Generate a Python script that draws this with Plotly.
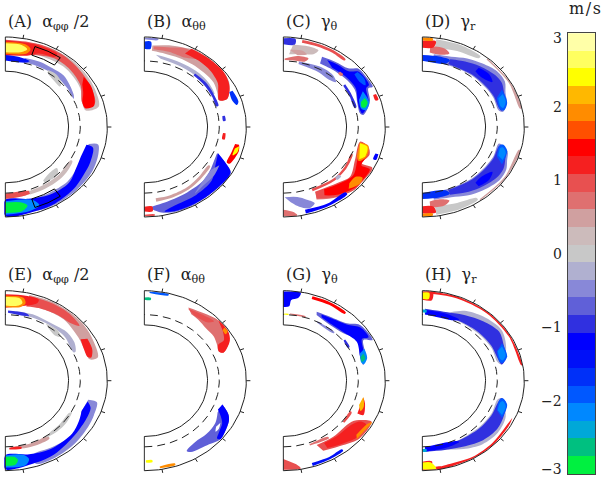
import numpy as np
import plotly.graph_objects as go

# colour scale, top (3 m/s) to bottom (-3 m/s)
scale_colors = ["#FFFFA8", "#FFFF60", "#FFFF00", "#FFB800", "#FF8C00", "#FF5000", "#FF0000", "#F52020",
                "#E85050", "#DF7070", "#D0A0A0", "#CCBBBB", "#C8C8C8", "#B0B0D0", "#8888D8", "#6060D8",
                "#3030E0", "#0000FF", "#0010F8", "#0030F8", "#0058FF", "#0088FF", "#00A8D8", "#00C080", "#00F040"]
scale_ticks = [3, 2, 1, 0, -1, -2, -3]
tick_angles = [-80, -60, -40, -20, 0, 20, 40, 60, 80]
r_inner, r_tacho, r_outer = 0.62, 0.735, 1.0
box_theta = [55, 72]
box_r = [0.84, 0.94]

# regions: (speed in m/s, [(latitude deg, radius), ...])
blobs_a = [
    (0.24, [(74, .97), (62, .985), (48, .99), (36, .985), (26, .975), (14, .945), (13, .81), (20, .80), (30, .85), (40, .87), (50, .88), (60, .87), (72, .86)]),
    (0.96, [(90, .97), (78, .97), (66, .98), (55, .98), (45, .97), (36, .96), (28, .95), (17, .92), (15, .82), (20, .80), (32, .87), (45, .90), (58, .90), (72, .84), (90, .79)]),
    (1.2, [(90, .96), (75, .96), (66, .965), (58, .96), (58, .92), (68, .88), (75, .82), (90, .80)]),
    (1.44, [(36, .95), (28, .955), (20, .93), (15, .90), (15, .81), (20, .805), (26, .85), (32, .89)]),
    (1.92, [(90, .945), (78, .94), (74, .90), (76, .84), (90, .815)]),
    (2.64, [(90, .93), (80, .925), (76, .89), (79, .85), (90, .83)]),
    (-0.48, [(76, .79), (65, .80), (55, .80), (45, .81), (38, .79), (28, .76), (25, .74), (35, .745), (50, .755), (65, .745), (76, .745)]),
    (-1.44, [(90, .80), (80, .79), (72, .77), (74, .745), (90, .74)]),
    (0.0, [(57, .76), (50, .77), (42, .74), (40, .70), (46, .70), (54, .72)]),
    (-0.48, [(-13, .84), (-12, .93), (-18, .96), (-30, .985), (-45, .99), (-60, .99), (-72, .97), (-72, .86), (-60, .85), (-45, .86), (-35, .84), (-24, .82)]),
    (-1.2, [(-14, .82), (-15, .89), (-25, .92), (-32, .93), (-45, .96), (-60, .98), (-72, .98), (-90, .99), (-90, .81), (-74, .83), (-60, .87), (-45, .88), (-33, .83), (-24, .81)]),
    (-2.16, [(-90, .975), (-76, .965), (-69, .93), (-72, .85), (-90, .825)]),
    (-2.88, [(-90, .955), (-80, .95), (-76, .90), (-80, .85), (-90, .84)]),
    (0.96, [(-90, .80), (-78, .79), (-70, .775), (-72, .745), (-90, .74)]),
    (0.24, [(-72, .79), (-60, .79), (-48, .79), (-38, .78), (-30, .76), (-30, .74), (-45, .745), (-60, .745), (-72, .75)]),
    (0.0, [(-58, .73), (-50, .74), (-44, .72), (-42, .68), (-50, .67), (-58, .70)]),
]
blobs_b = [
    (-1.68, [(90, .95), (86, .95), (86, .87), (90, .87)]),
    (-0.48, [(90, .99), (82, .99), (82, .975), (90, .975)]),
    (0.48, [(85, .91), (75, .94), (66, .965), (60, .99), (50, .99), (38, .99), (31, .97), (26, .93), (21, .87), (22, .79), (28, .81), (36, .84), (46, .84), (56, .84), (66, .84), (76, .84), (85, .85)]),
    (0.72, [(84, .90), (74, .92), (66, .96), (60, .96), (54, .94), (62, .87), (74, .87), (84, .87)]),
    (1.2, [(62, .985), (50, .99), (38, .99), (31, .965), (26, .93), (21, .87), (22, .79), (28, .82), (34, .87), (44, .90), (54, .91), (64, .91)]),
    (-0.24, [(82, .81), (72, .80), (60, .80), (48, .805), (38, .80), (28, .78), (30, .755), (45, .76), (62, .76), (78, .775)]),
    (-0.96, [(50, .775), (38, .78), (26, .77), (18, .765), (18, .74), (26, .745), (38, .75), (50, .75)]),
    (-1.68, [(25, .955), (17, .965), (15, .94), (19, .91), (25, .92)]),
    (-0.96, [(9, .80), (5, .80), (5, .775), (9, .775)]),
    (1.2, [(-5, .80), (-10, .80), (-10, .775), (-5, .775)]),
    (1.44, [(-12, .95), (-16, .965), (-26, .93), (-26, .90), (-18, .90), (-12, .91)]),
    (2.4, [(-13, .955), (-17, .955), (-20, .92), (-15, .92)]),
    (-0.72, [(-22, .77), (-27, .90), (-31, .99), (-45, .99), (-60, .99), (-72, .99), (-80, .965), (-86, .90), (-75, .86), (-60, .84), (-45, .83), (-35, .80)]),
    (-1.2, [(-22, .78), (-27, .90), (-31, .985), (-45, .985), (-60, .985), (-72, .98), (-78, .96), (-70, .92), (-56, .91), (-42, .89), (-32, .82)]),
    (-0.48, [(-30, .85), (-38, .87), (-48, .87), (-56, .89), (-46, .83), (-36, .81)]),
    (0.48, [(-82, .84), (-70, .83), (-58, .82), (-46, .80), (-34, .78), (-34, .76), (-46, .77), (-58, .79), (-72, .80), (-82, .80)]),
    (1.2, [(-90, .94), (-85, .94), (-85, .885), (-90, .885)]),
    (0.96, [(-90, .99), (-84, .99), (-84, .975), (-90, .975)]),
]
blobs_c = [
    (-0.96, [(90, .985), (83, .985), (83, .92), (90, .92)]),
    (0.96, [(79, .985), (70, .985), (60, .985), (51, .97), (51, .95), (60, .955), (70, .955), (79, .955)]),
    (0.24, [(84, .92), (75, .93), (68, .92), (70, .86), (78, .83), (86, .81)]),
    (0.72, [(89, .76), (80, .80), (72, .80), (74, .755), (82, .745), (89, .745)]),
    (0.48, [(86, .86), (78, .87), (74, .84), (80, .81)]),
    (-0.72, [(64, .867), (55, .885), (45.7, .911), (41.5, .98), (35.8, .985), (27, .985), (27.3, .938), (19.4, .901), (15, .864), (9.6, .796), (11.4, .767), (19.9, .772), (30.3, .814), (41.8, .811), (54.9, .797), (63, .793)]),
    (-1.2, [(60, .86), (52, .875), (44, .89), (40, .96), (34, .97), (29, .96), (28, .92), (19, .885), (15, .85), (11, .79), (14, .775), (22, .785), (31, .83), (42, .83), (54, .815)]),
    (-1.92, [(40, .95), (34, .96), (30, .93), (34, .90), (40, .91)]),
    (-2.16, [(27, .875), (18, .885), (13, .83), (15, .79), (22, .80)]),
    (-2.88, [(22, .86), (18, .87), (15, .83), (16, .80), (20, .81)]),
    (-0.48, [(78, .745), (62, .76), (50, .755), (44, .72), (50, .69), (60, .70), (78, .715)]),
    (-0.96, [(38, .77), (28, .76), (17, .75), (17, .73), (28, .735), (38, .745)]),
    (1.2, [(22, .98), (18, .98), (18, .95), (22, .95)]),
    (0.72, [(48, .83), (45, .83), (45, .80), (48, .80)]),
    (0.72, [(-68, .87), (-56, .94), (-45, .985), (-40, .98), (-50, .85), (-66, .79)]),
    (0.96, [(-66.6, .783), (-50, .816), (-40, .856), (-27.6, .793), (-12.2, .77), (-14.7, .862), (-20, .90), (-27.7, .868), (-27.5, .985), (-40, .985), (-45, .985), (-56, .934), (-67.6, .858)]),
    (1.44, [(-60, .80), (-50, .83), (-38, .87), (-26, .81), (-14, .79), (-16, .85), (-21, .88), (-29, .875), (-29, .97), (-40, .975), (-45, .97), (-55, .92), (-62, .86)]),
    (1.92, [(-47, .94), (-40, .98), (-36, .96), (-38, .90), (-44, .90)]),
    (1.92, [(-13, .77), (-14, .86), (-22, .88), (-27, .83), (-24, .79)]),
    (2.4, [(-13.5, .773), (-15, .853), (-22, .866), (-25.7, .827)]),
    (0.96, [(-68, .77), (-50, .78), (-36, .77), (-24, .745), (-24, .73), (-36, .745), (-50, .755), (-68, .74)]),
    (-1.2, [(-77, .985), (-65, .985), (-50, .975), (-50, .945), (-63, .955), (-77, .945)]),
    (-0.48, [(-89, .78), (-80, .79), (-74, .84), (-70, .90), (-74, .94), (-80, .90), (-85, .84)]),
    (0.72, [(-90, .99), (-82, .99), (-84, .95), (-90, .92)]),
    (-1.2, [(-18, .98), (-22, .98), (-22, .95), (-18, .95)]),
    (-0.24, [(-44, .79), (-48, .79), (-48, .76), (-44, .76)]),
]
blobs_d = [
    (0.0, [(82, .985), (68, .985), (54, .97), (54, .945), (68, .91), (82, .89)]),
    (0.72, [(85, .90), (76, .90), (72, .86), (78, .82), (85, .83)]),
    (0.48, [(50, .995), (30, .995), (12, .995), (12, .98), (30, .98), (50, .98)]),
    (1.2, [(90, .96), (82, .96), (83, .89), (90, .88)]),
    (1.92, [(90, .995), (84, .99), (84, .965), (90, .965)]),
    (-0.48, [(82, .815), (70, .83), (60, .88), (50, .92), (40, .96), (32, .955), (25, .90), (18, .87), (12, .81), (14, .77), (25, .77), (35, .76), (50, .75), (65, .735), (82, .735)]),
    (-0.96, [(70, .80), (60, .84), (50, .88), (38, .92), (32, .92), (26, .89), (19, .86), (13, .80), (16, .78), (26, .78), (36, .77), (50, .76), (70, .745)]),
    (-1.68, [(90, .80), (78, .80), (70, .79), (72, .74), (90, .735)]),
    (-1.2, [(50, .86), (42, .88), (36, .85), (44, .80), (50, .81)]),
    (-1.92, [(28, .885), (18, .875), (13, .82), (15, .785), (24, .80)]),
    (-2.16, [(25, .87), (19, .865), (15, .82), (17, .80), (23, .81)]),
    (0.0, [(-82, .985), (-68, .985), (-56, .975), (-56, .95), (-68, .91), (-82, .89)]),
    (0.72, [(-85, .90), (-76, .90), (-72, .86), (-78, .82), (-85, .83)]),
    (0.48, [(-55, .995), (-35, .995), (-15, .995), (-15, .98), (-35, .98), (-55, .98)]),
    (1.2, [(-90, .96), (-82, .96), (-83, .89), (-90, .88)]),
    (1.92, [(-90, .995), (-84, .99), (-84, .965), (-90, .965)]),
    (-0.48, [(-82, .815), (-70, .83), (-60, .88), (-50, .92), (-38, .96), (-30, .95), (-24, .91), (-18, .88), (-14, .80), (-14, .77), (-25, .77), (-35, .76), (-50, .75), (-65, .735), (-82, .735)]),
    (-0.96, [(-70, .80), (-60, .84), (-50, .88), (-38, .92), (-30, .92), (-24, .89), (-19, .865), (-15, .80), (-16, .78), (-26, .78), (-36, .77), (-50, .76), (-70, .745)]),
    (-1.68, [(-90, .80), (-78, .80), (-70, .79), (-72, .74), (-90, .735)]),
    (-1.2, [(-50, .86), (-42, .88), (-36, .85), (-44, .80), (-50, .81)]),
    (-1.92, [(-28, .885), (-18, .875), (-14, .82), (-15, .785), (-24, .80)]),
    (-2.16, [(-25, .87), (-19, .865), (-16, .82), (-17, .80), (-23, .81)]),
]
blobs_e = [
    (0.48, [(76, .98), (62, .99), (50, .99), (40, .99), (30, .975), (16, .945), (16, .86), (24, .85), (32, .86), (40, .87), (50, .89), (62, .88), (76, .87)]),
    (0.96, [(76, .97), (62, .975), (50, .975), (40, .95), (44, .91), (56, .89), (68, .87), (76, .85)]),
    (1.2, [(30, .93), (22, .92), (17, .88), (18, .85), (26, .85), (32, .87)]),
    (1.2, [(90, .96), (78, .965), (70, .96), (70, .92), (76, .86), (90, .81)]),
    (1.92, [(90, .945), (79, .94), (77, .88), (80, .83), (90, .82)]),
    (2.64, [(90, .93), (81, .925), (79, .88), (82, .84), (90, .835)]),
    (-0.24, [(82, .78), (70, .785), (62, .78), (50, .79), (42, .81), (32, .80), (25, .76), (25, .74), (40, .76), (55, .755), (70, .75), (82, .745)]),
    (-0.96, [(88, .78), (74, .775), (72, .755), (88, .755)]),
    (0.0, [(58, .75), (48, .76), (42, .73), (46, .70), (54, .72)]),
    (-0.48, [(-14.5, .84), (-15, .93), (-24, .95), (-32, .96), (-45, .975), (-60, .985), (-72, .97), (-72, .87), (-58, .87), (-44, .89), (-33, .87), (-25, .82)]),
    (-1.2, [(-16, .84), (-20, .89), (-28, .90), (-40, .91), (-50, .925), (-60, .95), (-72, .96), (-90, .985), (-90, .83), (-74, .85), (-60, .88), (-42, .88), (-32, .85), (-24, .82)]),
    (-2.16, [(-90, .965), (-78, .96), (-75, .90), (-78, .84), (-90, .83)]),
    (-2.88, [(-90, .945), (-84, .94), (-82, .89), (-84, .85), (-90, .845)]),
    (0.48, [(-86, .76), (-74, .775), (-64, .78), (-56, .775), (-56, .745), (-70, .74), (-86, .74)]),
    (1.2, [(-87, .765), (-78, .77), (-78, .75), (-87, .745)]),
    (0.0, [(-58, .75), (-48, .76), (-38, .76), (-28, .74), (-30, .72), (-42, .72), (-52, .72)]),
]
blobs_f = [
    (0.72, [(62, .92), (52, .95), (44, .985), (36, .99), (32, .97), (27, .93), (22, .84), (24, .80), (30, .82), (36, .84), (44, .84), (52, .86), (58, .87)]),
    (0.96, [(62, .91), (52, .93), (44, .95), (46, .90), (56, .875)]),
    (1.2, [(43, .99), (34, .99), (28, .95), (22, .84), (24, .80), (29, .83), (30, .90), (36, .95)]),
    (1.92, [(37, .98), (34, .985), (33, .95), (36, .95)]),
    (-0.72, [(-19, .81), (-24, .90), (-28, .94), (-36, .975), (-41, .99), (-48, .95), (-60, .915), (-62, .885), (-54, .845), (-44, .85), (-34, .84), (-26, .80)]),
    (-1.2, [(-19, .81), (-24, .90), (-28, .94), (-36, .975), (-41, .99), (-42, .96), (-38, .93), (-32, .90), (-28, .85), (-24, .79)]),
    (None, [(-32, .88), (-36, .905), (-39, .90), (-36, .87)]),
    (-2.64, [(90, .925), (86, .925), (86, .90), (90, .90)]),
    (-1.92, [(87, .99), (76, .99), (76, .975), (87, .975)]),
    (2.4, [(-89, .91), (-85, .91), (-85, .885), (-89, .885)]),
    (1.92, [(-81, .985), (-72, .985), (-72, .965), (-81, .965)]),
]
blobs_g = [
    (-1.2, [(90, .99), (80, .99), (81, .93), (85, .90), (86, .83), (90, .82)]),
    (2.4, [(90, .745), (86, .745), (86, .735), (90, .735)]),
    (1.44, [(73, .98), (62, .985), (51, .975), (51, .955), (62, .955), (73, .95)]),
    (-0.72, [(66.9, .834), (57.2, .846), (45.7, .89), (39.5, .974), (27.3, .986), (29.9, .906), (20.8, .857), (12.5, .804), (19.5, .798), (31.9, .855), (41.8, .79), (53.5, .77), (65.9, .80)]),
    (-1.2, [(63, .825), (55, .84), (44, .89), (38, .96), (30, .965), (31, .90), (22, .85), (15, .81), (19, .80), (31, .84), (42, .80), (53, .785), (62, .80)]),
    (-2.16, [(24, .87), (17, .86), (13, .81), (15, .79), (22, .81)]),
    (-2.64, [(21, .84), (17, .84), (15, .80), (19, .80)]),
    (-0.48, [(63, .74), (47, .735), (47, .72), (63, .725)]),
    (-0.96, [(37, .76), (30, .75), (30, .73), (37, .74)]),
    (0.72, [(85, .75), (73, .75), (73, .74), (85, .74)]),
    (0.96, [(-65.4, .786), (-51.8, .792), (-34.2, .81), (-29.6, .884), (-27.8, .979), (-40.4, .985), (-50.5, .926), (-63.3, .871)]),
    (1.2, [(-60, .80), (-50, .81), (-36, .83), (-31, .88), (-31, .95), (-40, .965), (-50, .91), (-60, .865)]),
    (1.92, [(-42, .97), (-36, .97), (-28, .985), (-30, .955), (-40, .935)]),
    (1.2, [(-13.3, .806), (-17.5, .84), (-25.9, .873), (-26.6, .812)]),
    (2.16, [(-13, .805), (-20, .84), (-24, .83), (-20, .79)]),
    (0.96, [(-38, .76), (-28, .76), (-27, .74), (-38, .74)]),
    (0.72, [(-70, .765), (-55, .78), (-55, .76), (-70, .75)]),
    (-1.44, [(-73, .99), (-62, .985), (-53, .975), (-53, .955), (-62, .96), (-73, .955)]),
    (0.96, [(-90, .99), (-80, .99), (-82, .94), (-86, .90), (-90, .87)]),
]
blobs_h = [
    (1.2, [(85, .995), (70, .995), (50, .995), (30, .995), (10, .995), (10, .985), (30, .98), (50, .98), (70, .975), (85, .97)]),
    (1.2, [(90, .99), (84, .99), (84, .90), (90, .90)]),
    (2.4, [(90, .98), (86, .98), (86, .91), (90, .91)]),
    (-0.24, [(70, .81), (62, .88), (50, .93), (36, .96), (24, .90), (13, .80), (16, .765), (28, .77), (42, .76), (60, .75), (70, .75)]),
    (-0.96, [(88, .80), (72, .80), (60, .84), (48, .89), (36, .93), (26, .89), (17, .86), (13, .80), (18, .78), (30, .78), (44, .77), (60, .755), (75, .745), (88, .735)]),
    (-1.2, [(88, .79), (72, .78), (62, .77), (64, .745), (88, .74)]),
    (-1.92, [(28, .885), (18, .875), (14, .81), (16, .785), (24, .80)]),
    (-2.16, [(26, .87), (19, .865), (16, .82), (18, .80), (24, .81)]),
    (-2.4, [(90, .79), (87, .79), (87, .76), (90, .76)]),
    (1.2, [(-25, .975), (-30, .985), (-45, .995), (-60, .995), (-80, .995), (-80, .98), (-60, .98), (-45, .975), (-30, .965)]),
    (1.2, [(-90, .99), (-79, .99), (-79, .97), (-84, .96), (-84, .90), (-90, .90)]),
    (2.4, [(-90, .985), (-82, .985), (-85, .91), (-90, .91)]),
    (-0.24, [(-72, .80), (-62, .86), (-50, .92), (-38, .94), (-26, .91), (-14, .80), (-16, .765), (-28, .77), (-42, .76), (-60, .75), (-72, .75)]),
    (-0.96, [(-88, .79), (-74, .80), (-60, .84), (-48, .89), (-36, .91), (-26, .89), (-17, .86), (-14, .80), (-18, .78), (-30, .78), (-44, .77), (-60, .755), (-75, .745), (-88, .735)]),
    (-1.2, [(-88, .79), (-72, .78), (-62, .77), (-64, .745), (-88, .74)]),
    (-1.92, [(-28, .885), (-18, .875), (-14, .81), (-16, .785), (-24, .80)]),
    (-2.16, [(-26, .87), (-19, .865), (-16, .82), (-18, .80), (-24, .81)]),
    (-2.4, [(-90, .79), (-87, .79), (-87, .76), (-90, .76)]),
]

panels = [
    ("(A)  α<sub>φφ</sub> /2", blobs_a, 5.3, 127, True),
    ("(B)  α<sub>θθ</sub>", blobs_b, 144.3, 127, False),
    ("(C)  γ<sub>θ</sub>", blobs_c, 283.3, 127, False),
    ("(D)  γ<sub>r</sub>", blobs_d, 422.3, 127, False),
    ("(E)  α<sub>φφ</sub> /2", blobs_e, 5.3, 380.7, False),
    ("(F)  α<sub>θθ</sub>", blobs_f, 144.3, 380.7, False),
    ("(G)  γ<sub>θ</sub>", blobs_g, 283.3, 380.7, False),
    ("(H)  γ<sub>r</sub>", blobs_h, 422.3, 380.7, False),
]

W, H = 603, 481
RX, RY = 102, 90
font = "DejaVu Serif"


def color_of(v):
    if v is None:
        return "white"
    i = int(round((2.88 - v) / 0.24))
    return scale_colors[max(0, min(24, i))]


def to_xy(theta, r):
    t = np.radians(np.array(theta, dtype=float))
    return np.array(r) * np.cos(t), np.array(r) * np.sin(t)


fig = go.Figure()
layout = {}
notes = []
for k, (title, blobs, x0, cy, has_box) in enumerate(panels):
    n = k + 1
    xname, yname = f"x{n}", f"y{n}"
    layout[f"xaxis{n}"] = dict(domain=[(x0 - 0.01 * RX) / W, (x0 + 1.1 * RX) / W], range=[-0.01, 1.1],
                               visible=False, fixedrange=True, anchor=yname)
    layout[f"yaxis{n}"] = dict(domain=[1 - (cy + 1.1 * RY) / H, 1 - (cy - 1.1 * RY) / H], range=[-1.1, 1.1],
                               visible=False, fixedrange=True, anchor=xname)
    for value, pts in blobs:
        x, y = to_xy([p[0] for p in pts], [p[1] for p in pts])
        fig.add_trace(go.Scatter(x=x, y=y, mode="lines", fill="toself", fillcolor=color_of(value),
                                 line=dict(width=0, shape="spline", smoothing=0.9), hoverinfo="skip", showlegend=False,
                                 xaxis=xname, yaxis=yname))

    arc = np.arange(-90, 91, 2)
    for r, dash in [(r_outer, "solid"), (r_inner, "solid"), (r_tacho, "8px,5px")]:
        x, y = to_xy(arc, np.full(arc.shape, r))
        fig.add_trace(go.Scatter(x=x, y=y, mode="lines", line=dict(color="#222222", width=1, dash=dash),
                                 hoverinfo="skip", showlegend=False, xaxis=xname, yaxis=yname))
    for sign in (1, -1):
        fig.add_trace(go.Scatter(x=[0, 0], y=[sign * r_inner, sign * r_outer], mode="lines",
                                 line=dict(color="#222222", width=1), hoverinfo="skip", showlegend=False,
                                 cliponaxis=False, xaxis=xname, yaxis=yname))
    for a in tick_angles:
        x, y = to_xy([a, a], [r_outer, r_outer + 0.04])
        fig.add_trace(go.Scatter(x=x, y=y, mode="lines", line=dict(color="#222222", width=1),
                                 hoverinfo="skip", showlegend=False, xaxis=xname, yaxis=yname))
    if has_box:
        for sign in (1, -1):
            t0, t1 = box_theta
            r0, r1 = box_r
            ts = [t0, (t0 + t1) / 2, t1, t1, (t0 + t1) / 2, t0, t0]
            rs = [r1, r1, r1, r0, r0, r0, r1]
            x, y = to_xy(sign * np.array(ts), rs)
            fig.add_trace(go.Scatter(x=x, y=y, mode="lines", line=dict(color="black", width=1),
                                     hoverinfo="skip", showlegend=False, xaxis=xname, yaxis=yname))
    notes.append(dict(text=title, xref="paper", yref="paper", x=(x0 + 0.5) / W, y=1 - (cy - 105) / H,
                      xanchor="left", yanchor="middle", showarrow=False,
                      font=dict(family=font, size=16, color="#222222")))

# colour bar
edges = [3 - 0.24 * (i + 1) for i in range(25)]
fig.add_trace(go.Bar(x=[0] * 25, y=[0.24] * 25, base=edges, width=1, marker=dict(color=scale_colors, line=dict(width=0)),
                     hoverinfo="skip", showlegend=False, xaxis="x9", yaxis="y9"))
layout["xaxis9"] = dict(domain=[568 / W, 595 / W], range=[-0.5, 0.5], showticklabels=False, ticks="", showgrid=False,
                        zeroline=False, showline=True, mirror=True, linecolor="#444444", linewidth=1, fixedrange=True,
                        anchor="y9")
layout["yaxis9"] = dict(domain=[1 - 474 / H, 1 - 33.3 / H], range=[-3, 3], showticklabels=False, ticks="", showgrid=False,
                        zeroline=False, showline=True, mirror=True, linecolor="#444444", linewidth=1, fixedrange=True,
                        anchor="x9")
for t in scale_ticks:
    shift = -5 if t == 3 else (5 if t == -3 else 0)
    notes.append(dict(text=str(t).replace("-", "−"), xref="paper", yref="y9", x=564 / W, y=t, yshift=shift,
                      xanchor="right", yanchor="middle", showarrow=False,
                      font=dict(family=font, size=14, color="#222222")))
notes.append(dict(text="m\u200a/\u200as", xref="paper", yref="paper", x=585 / W, y=1 - 8 / H, xanchor="center", yanchor="middle",
                  showarrow=False, font=dict(family=font, size=16, color="#222222")))

fig.update_layout(width=W, height=H, margin=dict(l=0, r=0, t=0, b=0), paper_bgcolor="white", plot_bgcolor="white",
                  annotations=notes, bargap=0, **layout)
fig.write_html("out.html", config={"displayModeBar": False},
               post_script="document.body.style.margin='0';document.body.style.overflow='hidden';")
